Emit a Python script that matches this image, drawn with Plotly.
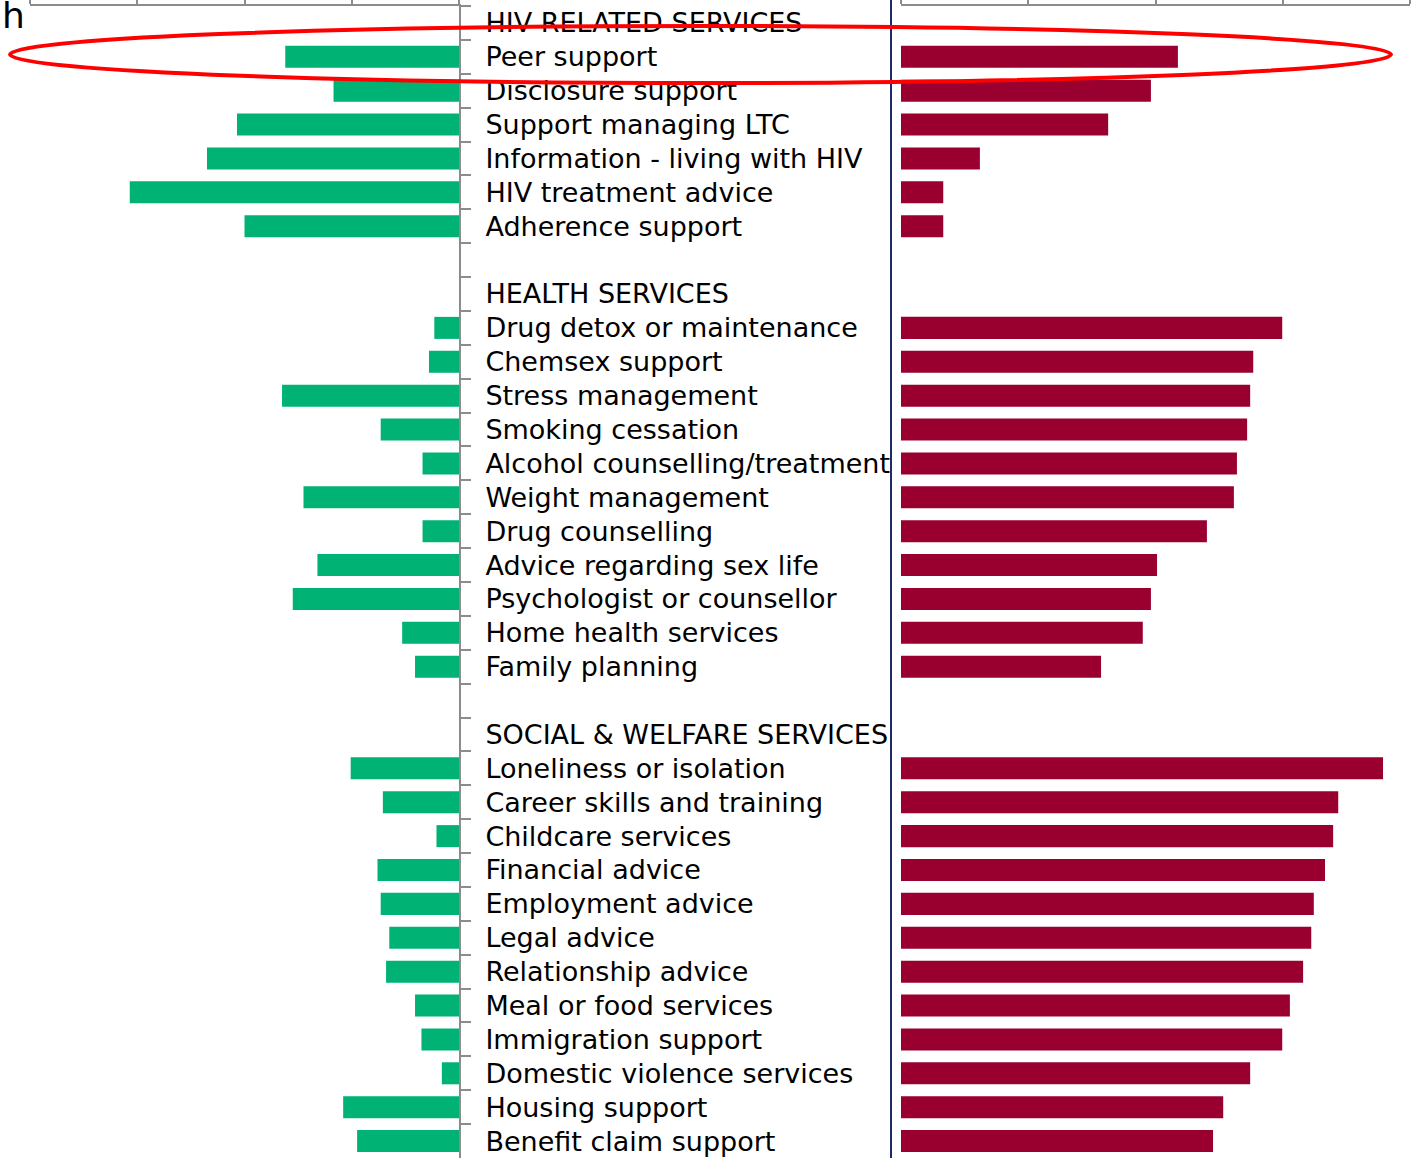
import plotly.graph_objects as go

# Row labels, top to bottom (section headers and spacer rows included)
categories = [
    "HIV RELATED SERVICES",
    "Peer support",
    "Disclosure support",
    "Support managing LTC",
    "Information - living with HIV",
    "HIV treatment advice",
    "Adherence support",
    " ",
    "HEALTH SERVICES",
    "Drug detox or maintenance",
    "Chemsex support",
    "Stress management",
    "Smoking cessation",
    "Alcohol counselling/treatment",
    "Weight management",
    "Drug counselling",
    "Advice regarding sex life",
    "Psychologist or counsellor",
    "Home health services",
    "Family planning",
    "  ",
    "SOCIAL & WELFARE SERVICES",
    "Loneliness or isolation",
    "Career skills and training",
    "Childcare services",
    "Financial advice",
    "Employment advice",
    "Legal advice",
    "Relationship advice",
    "Meal or food services",
    "Immigration support",
    "Domestic violence services",
    "Housing support",
    "Benefit claim support",
]

# Left panel (green), percent
need = [
    None, 16.2, 11.7, 20.7, 23.5, 30.7, 20.0,
    None, None, 2.3, 2.8, 16.5, 7.3, 3.4, 14.5, 3.4, 13.2, 15.5, 5.3, 4.1,
    None, None, 10.1, 7.1, 2.1, 7.6, 7.3, 6.5, 6.8, 4.1, 3.5, 1.6, 10.8, 9.5,
]

# Right panel (dark red), percent
unmet = [
    None, 54.4, 49.1, 40.7, 15.5, 8.3, 8.3,
    None, None, 74.9, 69.2, 68.6, 68.0, 66.0, 65.4, 60.1, 50.3, 49.1, 47.5, 39.3,
    None, None, 94.7, 85.9, 84.9, 83.3, 81.1, 80.6, 79.0, 76.4, 74.9, 68.6, 63.3, 61.3,
]

left_ticks = [0, 10, 20, 30, 40]
right_ticks = [0, 25, 50, 75, 100]

W, H = 1418, 1158
ML, MR, MT, MB = 30, 8, 6, 0
PW = W - ML - MR
PH = H - MT - MB


def px_x(p):
    return (p - ML) / PW


def px_y(p):
    return 1 - (p - MT) / PH


GREEN = "#00b274"
CRIMSON = "#990030"
GRAY = "#8c8c8c"
FONT = "DejaVu Sans"

fig = go.Figure()
fig.add_trace(go.Bar(
    x=need, y=categories, orientation="h", marker=dict(color=GREEN, line_width=0),
    xaxis="x", yaxis="y", showlegend=False, hoverinfo="x+y",
))
fig.add_trace(go.Bar(
    x=unmet, y=categories, orientation="h", marker=dict(color=CRIMSON, line_width=0),
    xaxis="x2", yaxis="y2", showlegend=False, hoverinfo="x+y",
))

fig.update_layout(
    width=W, height=H,
    margin=dict(l=ML, r=MR, t=MT, b=MB, autoexpand=False),
    paper_bgcolor="white", plot_bgcolor="white",
    bargap=0.35,
    font=dict(family=FONT, color="black"),
    xaxis=dict(
        domain=[0, px_x(459)], range=[40, 0], side="top", anchor="y",
        tickvals=left_ticks, showticklabels=False, ticks="outside", ticklen=8,
        tickcolor=GRAY, tickwidth=2, showline=True, linecolor=GRAY, linewidth=2,
        showgrid=False, zeroline=False,
    ),
    yaxis=dict(
        type="category", categoryorder="array", categoryarray=categories,
        autorange="reversed", side="right", anchor="x",
        tickson="boundaries", ticks="outside", ticklen=10, tickcolor=GRAY, tickwidth=2,
        showline=True, linecolor=GRAY, linewidth=2, showgrid=False,
        tickfont=dict(family=FONT, size=27, color="black"),
        ticklabelstandoff=19,
    ),
    xaxis2=dict(
        domain=[px_x(901), 1], range=[0, 100], side="top", anchor="y2",
        tickvals=right_ticks, showticklabels=False, ticks="outside", ticklen=8,
        tickcolor=GRAY, tickwidth=2, showline=True, linecolor=GRAY, linewidth=2,
        showgrid=False, zeroline=False,
    ),
    yaxis2=dict(
        type="category", categoryorder="array", categoryarray=categories,
        autorange="reversed", anchor="x2", matches="y",
        showticklabels=False, showline=False, ticks="", showgrid=False,
    ),
    shapes=[
        # divider between the label column and the right panel
        dict(type="line", xref="paper", yref="paper",
             x0=px_x(891), x1=px_x(891), y0=px_y(H), y1=px_y(0),
             line=dict(color="#1f2a6b", width=2)),
        # highlight ring around the first row
        dict(type="circle", xref="paper", yref="paper",
             x0=px_x(10), x1=px_x(1391), y0=px_y(83), y1=px_y(26),
             line=dict(color="#ff0000", width=4), layer="above"),
    ],
    annotations=[
        dict(text="h", xref="paper", yref="paper", x=px_x(0), y=px_y(38),
             xanchor="left", yanchor="bottom", showarrow=False,
             font=dict(family=FONT, size=36, color="black")),
    ],
)

fig.write_html("out.html")
